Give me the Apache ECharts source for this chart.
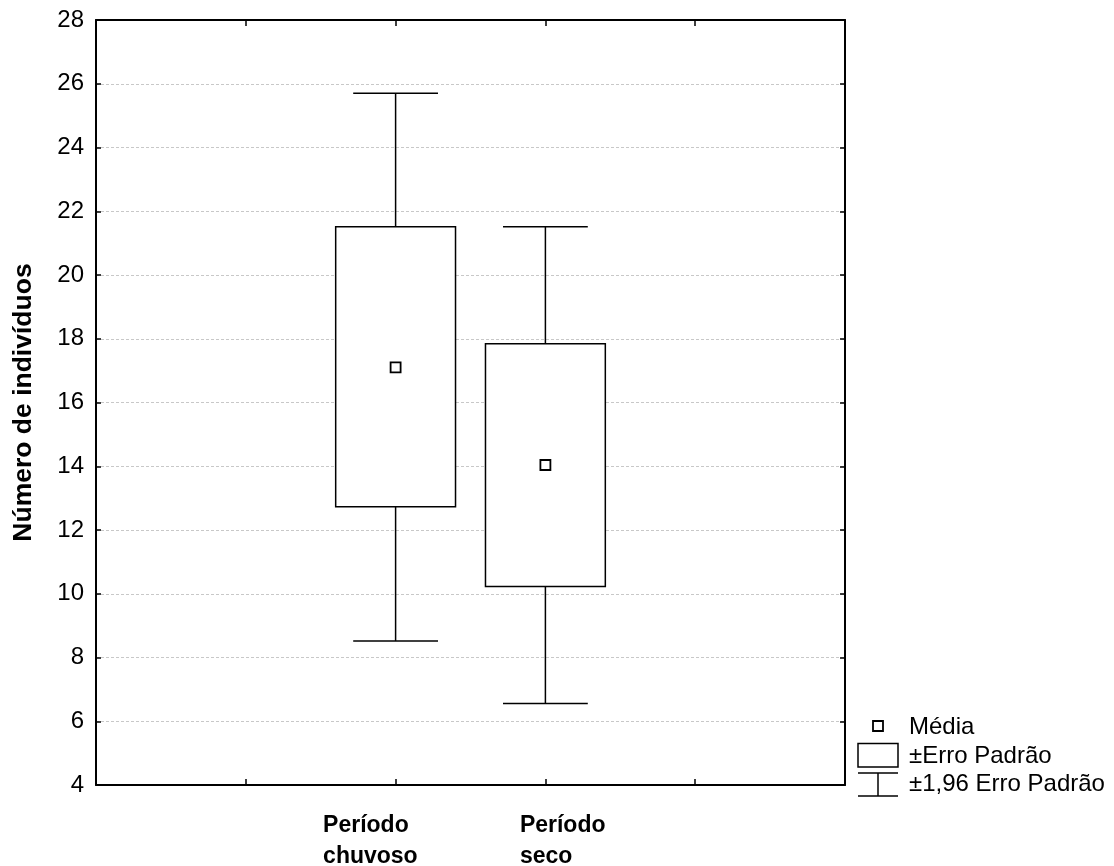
<!DOCTYPE html>
<html>
<head>
<meta charset="utf-8">
<script src="https://cdn.jsdelivr.net/npm/echarts@6/dist/echarts.min.js"></script>
<style>
  html, body { margin: 0; padding: 0; background: #fff; }
  #chart { width: 1114px; height: 866px; }
</style>
</head>
<body>
<div id="chart"></div>
<script>
// groups and their position on the x scale
const categories = ['Período\nchuvoso', 'Período\nseco']
const xPositions = [2, 3]

// mean, ±standard error, ±1.96 standard error
const means = [17.1, 14.04]
const seLow = [12.73, 10.23]
const seHigh = [21.51, 17.84]
const ciLow = [8.52, 6.56]
const ciHigh = [25.7, 21.51]

const yMin = 4
const yMax = 28
const yStep = 2
const yName = 'Número de indivíduos'
const legendLabels = ['Média', '±Erro Padrão', '±1,96 Erro Padrão']

const FONT = '"Liberation Sans", Arial, sans-serif'

const chart = echarts.init(document.getElementById('chart'))

const data = xPositions.map((x, i) => [x, ciLow[i], seLow[i], means[i], seHigh[i], ciHigh[i]])

function renderBox(params, api) {
  const x = api.value(0)
  const pCiLow = api.coord([x, api.value(1)])
  const pSeLow = api.coord([x, api.value(2)])
  const pMean = api.coord([x, api.value(3)])
  const pSeHigh = api.coord([x, api.value(4)])
  const pCiHigh = api.coord([x, api.value(5)])
  const cx = pMean[0]
  const boxW = api.size([0.8, 0])[0]
  const capW = api.size([0.566, 0])[0]
  const line = { stroke: '#000', lineWidth: 1.5 }
  return {
    type: 'group',
    children: [
      { type: 'line', shape: { x1: cx, y1: pCiHigh[1], x2: cx, y2: pSeHigh[1] }, style: line },
      { type: 'line', shape: { x1: cx - capW / 2, y1: pCiHigh[1], x2: cx + capW / 2, y2: pCiHigh[1] }, style: line },
      { type: 'line', shape: { x1: cx, y1: pSeLow[1], x2: cx, y2: pCiLow[1] }, style: line },
      { type: 'line', shape: { x1: cx - capW / 2, y1: pCiLow[1], x2: cx + capW / 2, y2: pCiLow[1] }, style: line },
      {
        type: 'rect',
        shape: { x: cx - boxW / 2, y: pSeHigh[1], width: boxW, height: pSeLow[1] - pSeHigh[1] },
        style: { fill: '#fff', stroke: '#000', lineWidth: 1.5 }
      },
      {
        type: 'rect',
        shape: { x: cx - 5, y: pMean[1] - 5, width: 10, height: 10 },
        style: { fill: '#fff', stroke: '#000', lineWidth: 1.8 }
      }
    ]
  }
}

const frameLine = { show: true, onZero: false, lineStyle: { color: '#000', width: 2 } }
const innerTick = { show: true, inside: true, length: 6, lineStyle: { color: '#000', width: 1.5 } }

chart.setOption({
  animation: false,
  backgroundColor: '#fff',
  grid: { left: 96, right: 269, top: 20, bottom: 81 },
  xAxis: [
    {
      type: 'value', min: 0, max: 5, interval: 1, position: 'bottom',
      axisLine: frameLine, axisTick: innerTick, axisLabel: { show: false }, splitLine: { show: false }
    },
    {
      type: 'value', min: 0, max: 5, interval: 1, position: 'top',
      axisLine: frameLine, axisTick: innerTick, axisLabel: { show: false }, splitLine: { show: false }
    }
  ],
  yAxis: [
    {
      type: 'value', min: yMin, max: yMax, interval: yStep, position: 'left',
      name: yName, nameLocation: 'middle', nameGap: 59,
      nameTextStyle: { fontFamily: FONT, fontSize: 26.5, fontWeight: 'bold', color: '#000' },
      axisLine: frameLine,
      axisTick: { ...innerTick, length: 5 },
      axisLabel: { fontFamily: FONT, fontSize: 24, color: '#000', margin: 12 },
      splitLine: { show: true, lineStyle: { color: '#c8c8c8', type: [3, 2], width: 1 } }
    },
    {
      type: 'value', min: yMin, max: yMax, interval: yStep, position: 'right',
      axisLine: frameLine,
      axisTick: { ...innerTick, length: 5 },
      axisLabel: { show: false }, splitLine: { show: false }
    }
  ],
  series: [
    {
      type: 'custom',
      xAxisIndex: 0,
      yAxisIndex: 0,
      renderItem: renderBox,
      encode: { x: 0, y: [1, 2, 3, 4, 5] },
      data: data,
      clip: false
    }
  ]
})

// category labels under the axis (left-aligned text blocks, as in the original)
const labelOffsets = [-72.5, -25.5]
const labelGraphics = categories.map((name, i) => {
  const p = chart.convertToPixel({ xAxisIndex: 0, yAxisIndex: 0 }, [xPositions[i], yMin])
  return {
    type: 'text',
    x: p[0] + labelOffsets[i],
    y: p[1] + 25,
    style: {
      text: name, fontFamily: FONT, fontSize: 23, fontWeight: 'bold',
      fill: '#000', lineHeight: 31, align: 'left', verticalAlign: 'top'
    }
  }
})

// legend drawn by hand: mean square, SE box, 1.96 SE whisker
const lx = 858
const legendGraphics = [
  { type: 'rect', shape: { x: lx + 15, y: 721, width: 10, height: 10 }, style: { fill: '#fff', stroke: '#000', lineWidth: 1.8 } },
  { type: 'rect', shape: { x: lx, y: 743.5, width: 40, height: 23.5 }, style: { fill: '#fff', stroke: '#000', lineWidth: 1.5 } },
  { type: 'line', shape: { x1: lx, y1: 773, x2: lx + 40, y2: 773 }, style: { stroke: '#000', lineWidth: 1.5 } },
  { type: 'line', shape: { x1: lx + 20, y1: 773, x2: lx + 20, y2: 796 }, style: { stroke: '#000', lineWidth: 1.5 } },
  { type: 'line', shape: { x1: lx, y1: 796, x2: lx + 40, y2: 796 }, style: { stroke: '#000', lineWidth: 1.5 } }
]
const legendTextY = [727, 756, 784]
legendLabels.forEach((t, i) => {
  legendGraphics.push({
    type: 'text', x: 909, y: legendTextY[i],
    style: { text: t, fontFamily: FONT, fontSize: 24, fill: '#000', align: 'left', verticalAlign: 'middle' }
  })
})

chart.setOption({ graphic: labelGraphics.concat(legendGraphics) })
</script>
</body>
</html>
